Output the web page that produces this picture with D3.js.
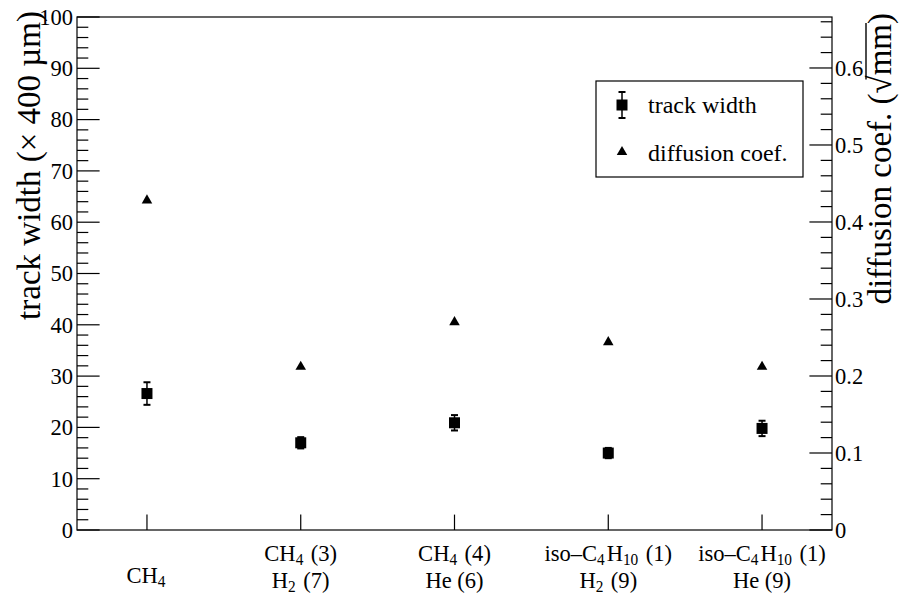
<!DOCTYPE html>
<html>
<head>
<meta charset="utf-8">
<script src="https://cdn.jsdelivr.net/npm/d3@7"></script>
<style>
  html, body { margin: 0; padding: 0; background: #fff; }
  svg { display: block; }
  text { font-family: "Liberation Serif", "Times New Roman", serif; fill: #000; }
</style>
</head>
<body>
<svg id="chart" width="899" height="597" font-family="Liberation Serif"></svg>
<script>
// Gas mixtures along the x axis: each label is a list of lines, each line a list of [text, subscript] pieces
const mixtures = [
  [[["CH", "4"]]],
  [[["CH", "4"], [" (3)", ""]], [["H", "2"], [" (7)", ""]]],
  [[["CH", "4"], [" (4)", ""]], [["He (6)", ""]]],
  [[["iso\u2013C", "4"], ["H", "10"], [" (1)", ""]], [["H", "2"], [" (9)", ""]]],
  [[["iso\u2013C", "4"], ["H", "10"], [" (1)", ""]], [["He (9)", ""]]]
];

// Track width in units of 400 µm, with symmetric errors
const trackWidth    = [26.6, 17.0, 20.9, 15.0, 19.8];
const trackWidthErr = [2.2, 1.1, 1.5, 1.0, 1.5];

// Diffusion coefficient in sqrt(mm)
const diffusionCoef = [0.428, 0.212, 0.270, 0.244, 0.212];

const leftTicks  = [0, 10, 20, 30, 40, 50, 60, 70, 80, 90, 100];
const rightTicks = [0, 0.1, 0.2, 0.3, 0.4, 0.5, 0.6];

const svg = d3.select("#chart");
const frame = { left: 77, right: 832, top: 17, bottom: 530 };

const x = d3.scaleLinear().domain([-0.455, 4.455]).range([frame.left, frame.right]);
const yL = d3.scaleLinear().domain([0, 100]).range([frame.bottom, frame.top]);
const yR = d3.scaleLinear().domain([0, 0.6662]).range([frame.bottom, frame.top]);

const majorLen = 22.6, minorLen = 11.3, xTickLen = 15.4;

// Frame
svg.append("rect")
  .attr("x", frame.left).attr("y", frame.top)
  .attr("width", frame.right - frame.left).attr("height", frame.bottom - frame.top)
  .attr("fill", "none").attr("stroke", "#000").attr("stroke-width", 1.2);

// Left axis: major ticks every 10, minor every 2
const gL = svg.append("g").attr("transform", `translate(${frame.left},0)`);
const minorL = d3.range(0, 100.001, 2);
gL.selectAll("line").data(minorL).join("line")
  .attr("x1", 0).attr("x2", d => (d % 10 === 0 ? majorLen : minorLen))
  .attr("y1", d => yL(d)).attr("y2", d => yL(d))
  .attr("stroke", "#000").attr("stroke-width", 1.2);
gL.selectAll("text").data(leftTicks).join("text")
  .attr("x", -4).attr("y", d => yL(d)).attr("dy", "0.35em")
  .attr("text-anchor", "end").attr("font-size", 22.5)
  .text(d => d);

// Right axis: major ticks every 0.1, minor every 0.02
const gR = svg.append("g").attr("transform", `translate(${frame.right},0)`);
const minorR = d3.range(0, 34).map(i => i * 0.02).filter(v => yR(v) >= frame.top - 0.5);
gR.selectAll("line").data(minorR).join("line")
  .attr("x1", 0).attr("x2", (d, i) => (i % 5 === 0 ? -majorLen : -minorLen))
  .attr("y1", d => yR(d)).attr("y2", d => yR(d))
  .attr("stroke", "#000").attr("stroke-width", 1.2);
gR.selectAll("text").data(rightTicks).join("text")
  .attr("x", 3).attr("y", d => yR(d)).attr("dy", "0.35em")
  .attr("text-anchor", "start").attr("font-size", 22.5)
  .text(d => d3.format("~g")(d));

// Bottom axis ticks at each mixture
svg.append("g").selectAll("line").data(mixtures).join("line")
  .attr("x1", (d, i) => x(i)).attr("x2", (d, i) => x(i))
  .attr("y1", frame.bottom).attr("y2", frame.bottom - xTickLen)
  .attr("stroke", "#000").attr("stroke-width", 1.2);

// Category labels with subscripts
const labelSize = 23.5, subSize = 16;
const lineBase = [561, 588];
mixtures.forEach((lines, i) => {
  lines.forEach((pieces, li) => {
    const yBase = lines.length === 1 ? 583 : lineBase[li];
    const t = svg.append("text")
      .attr("x", x(i)).attr("y", yBase)
      .attr("text-anchor", "middle")
      .attr("font-size", labelSize)
      .attr("transform", `translate(${x(i)},0) scale(0.96,1) translate(${-x(i)},0)`);
    pieces.forEach(([main, sub]) => {
      t.append("tspan").text(main);
      if (sub) {
        t.append("tspan").attr("font-size", subSize).attr("dy", 4).text(sub);
        t.append("tspan").attr("dy", -4).text("\u200a");
      }
    });
  });
});

// Axis titles
svg.append("text")
  .attr("transform", `translate(40,11) rotate(-90)`)
  .attr("text-anchor", "end")
  .attr("font-size", 33)
  .text("track width (\u00d7 400 \u00b5m)");

const rTitle = svg.append("g").attr("transform", `translate(891,13) rotate(-90)`);
const rText = rTitle.append("text")
  .attr("text-anchor", "end")
  .attr("font-size", 33);
rText.append("tspan").text("diffusion coef. (\u221a");
rText.append("tspan").text("mm");
rText.append("tspan").text(")");
{
  const node = rText.node();
  const full = "diffusion coef. (\u221amm)";
  const iStart = full.indexOf("mm");
  const p1 = node.getEndPositionOfChar(iStart + 1);
  const rootIdx = full.indexOf("\u221a");
  const r0 = node.getStartPositionOfChar(rootIdx);
  rTitle.append("line")
    .attr("x1", r0.x + 14).attr("x2", p1.x + 1)
    .attr("y1", -25).attr("y2", -25)
    .attr("stroke", "#000").attr("stroke-width", 1.4);
}

// Track width markers with error bars
const pts = svg.append("g");
trackWidth.forEach((v, i) => {
  const cx = x(i);
  pts.append("line")
    .attr("x1", cx).attr("x2", cx)
    .attr("y1", yL(v - trackWidthErr[i])).attr("y2", yL(v + trackWidthErr[i]))
    .attr("stroke", "#000").attr("stroke-width", 1.5);
  [v - trackWidthErr[i], v + trackWidthErr[i]].forEach(e => {
    pts.append("line")
      .attr("x1", cx - 3.5).attr("x2", cx + 3.5)
      .attr("y1", yL(e)).attr("y2", yL(e))
      .attr("stroke", "#000").attr("stroke-width", 2);
  });
  pts.append("rect")
    .attr("x", cx - 5.5).attr("y", yL(v) - 5.5)
    .attr("width", 11).attr("height", 11)
    .attr("fill", "#000");
});

// Diffusion coefficient markers
const tri = d3.symbol().type(d3.symbolTriangle).size(48);
svg.append("g").selectAll("path").data(diffusionCoef).join("path")
  .attr("d", tri)
  .attr("transform", (d, i) => `translate(${x(i)},${yR(d)})`)
  .attr("fill", "#000");

// Legend
const lg = svg.append("g");
lg.append("rect")
  .attr("x", 596).attr("y", 81).attr("width", 207).attr("height", 96)
  .attr("fill", "#fff").attr("stroke", "#000").attr("stroke-width", 1.2);
const lx = 622, ly1 = 105, ly2 = 152;
lg.append("line").attr("x1", lx).attr("x2", lx).attr("y1", ly1 - 13).attr("y2", ly1 + 13)
  .attr("stroke", "#000").attr("stroke-width", 1.5);
[ly1 - 13, ly1 + 13].forEach(e => lg.append("line")
  .attr("x1", lx - 3.5).attr("x2", lx + 3.5).attr("y1", e).attr("y2", e)
  .attr("stroke", "#000").attr("stroke-width", 2));
lg.append("rect").attr("x", lx - 5.5).attr("y", ly1 - 5.5).attr("width", 11).attr("height", 11).attr("fill", "#000");
lg.append("path").attr("d", tri).attr("transform", `translate(${lx},${ly2})`).attr("fill", "#000");
lg.append("text").attr("x", 648).attr("y", ly1 + 8).attr("font-size", 24).text("track width");
lg.append("text").attr("x", 648).attr("y", ly2 + 9).attr("font-size", 24).text("diffusion coef.");
</script>
</body>
</html>
